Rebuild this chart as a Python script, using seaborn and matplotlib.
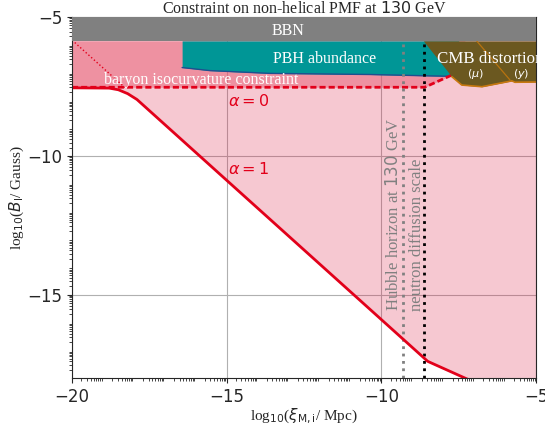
import numpy as np
import seaborn as sns
from matplotlib import pyplot as plt
from matplotlib.ticker import FixedLocator

# --- values (log10 xi [Mpc], log10 B [Gauss]) ---
bbn_floor = -5.86

alpha1_x = [-20.0, -18.8, -18.5, -18.2, -17.9, -8.5, -5.0]
alpha1_y = [-7.55, -7.56, -7.62, -7.76, -7.97, -17.4, -19.15]
alpha1_ext_x = [-20.0, -18.25]
alpha1_ext_y = [-5.83, -7.58]

alpha0_x = [-20.0, -8.6, -7.3]
alpha0_y = [-7.53, -7.53, -6.88]

pbh_x = [-16.44, -16.44, -15.54, -13.6, -10.37, -8.43, -7.5]
pbh_y = [-5.86, -6.82, -6.93, -7.03, -7.07, -7.12, -7.14]

cmb_x = [-8.64, -7.72, -7.40, -6.75, -5.78, -5.68, -5.0]
cmb_y = [-5.86, -7.15, -7.45, -7.51, -7.30, -7.35, -7.34]
cmb_split_x = [-6.92, -5.84]
cmb_split_y = [-5.86, -7.27]

hubble_scale = -9.30
neutron_scale = -8.62

sns.set_style("ticks")
plt.rcParams["font.family"] = ["Liberation Serif", "DejaVu Sans"]
plt.rcParams["mathtext.fontset"] = "dejavusans"

RED = "#e2001a"

fig = plt.figure(figsize=(5.45, 4.34), dpi=100)
ax = fig.add_axes([0.1321, 0.129, 0.8514, 0.8318])

ax.grid(True, color="#b0b0b0", lw=0.8, zorder=0)
ax.set_axisbelow(True)

# allowed region above alpha=1 line
ax.fill_between(alpha1_x, alpha1_y, -5, color="crimson", alpha=0.23, lw=0, zorder=1)
# baryon isocurvature
ax.fill_between(alpha0_x, alpha0_y, bbn_floor, color="#e8647a", alpha=0.55, lw=0, zorder=1.1)
# PBH abundance
ax.fill_between(pbh_x, pbh_y, bbn_floor, color="#009696", lw=0, zorder=1.2)
ax.plot(pbh_x[1:], pbh_y[1:], color="#1f4f8f", lw=1, zorder=1.25)
# CMB distortion
ax.fill_between(cmb_x, cmb_y, bbn_floor, color="#6b5820", lw=0, zorder=1.4)
ax.plot(cmb_x[1:], cmb_y[1:], color="#c8780f", lw=1.2, zorder=1.45)
ax.plot(cmb_split_x, cmb_split_y, color="#b8730f", lw=0.9, zorder=1.45)
# BBN
ax.axhspan(bbn_floor, -5, color="gray", lw=0, zorder=3)

sns.lineplot(x=alpha1_x, y=alpha1_y, color=RED, lw=2, ax=ax, zorder=2)
sns.lineplot(x=alpha0_x, y=alpha0_y, color=RED, lw=2, ls=(0, (2.2, 1.1)), ax=ax, zorder=1.3)
ax.plot(alpha1_ext_x, alpha1_ext_y, color=RED, lw=1, ls=":", zorder=1.3)

ax.vlines(hubble_scale, -18, bbn_floor, color="gray", lw=2, ls=":", zorder=1.5)
ax.vlines(neutron_scale, -18, bbn_floor, color="black", lw=2, ls=":", zorder=1.5)

ax.text(-13.02, -5.5, "BBN", color="white", fontsize=11.5, ha="center", va="center", zorder=4)
ax.text(-11.85, -6.52, "PBH abundance", color="white", fontsize=11.5, ha="center", va="center", zorder=4)
ax.text(-18.95, -7.27, "baryon isocurvature constraint", color="white", fontsize=11.5,
        ha="left", va="center", zorder=4)
ax.text(-8.2, -6.52, "CMB distortion", color="white", fontsize=12.2, ha="left", va="center", zorder=4)
ax.text(-6.97, -7.06, r"$(\mu)$", color="white", fontsize=8, ha="center", va="center", zorder=4)
ax.text(-5.48, -7.06, r"$(y)$", color="white", fontsize=8, ha="center", va="center", zorder=4)
ax.text(-14.95, -8.05, r"$\alpha = 0$", color=RED, fontsize=11.5, ha="left", va="center", zorder=4)
ax.text(-14.95, -10.5, r"$\alpha = 1$", color=RED, fontsize=11.5, ha="left", va="center", zorder=4)
ax.text(-9.62, -15.6, "Hubble horizon at $130$ GeV", color="gray", fontsize=12, rotation=90,
        ha="center", va="bottom", zorder=4)
ax.text(-8.86, -15.6, "neutron diffusion scale", color="gray", fontsize=12, rotation=90,
        ha="center", va="bottom", zorder=4)

ax.set_xlim(-20, -5)
ax.set_ylim(-18, -5)
ax.set_xticks([-20, -15, -10, -5])
ax.set_yticks([-15, -10, -5])
minor = np.log10(np.arange(2, 10))
ax.xaxis.set_minor_locator(FixedLocator([n + m for n in range(-20, -5) for m in minor]))
ax.yaxis.set_minor_locator(FixedLocator([n + m for n in range(-18, -5) for m in minor]))
ax.tick_params(axis="both", which="major", labelsize=12, labelfontfamily="DejaVu Sans")

ax.set_xlabel(r"log$_{10}$($\xi_{\rm M,i}$/ Mpc)", fontsize=11, labelpad=1)
ax.set_ylabel(r"log$_{10}$($B_{\rm I}$/ Gauss)", fontsize=11, labelpad=1)
ax.set_title("Constraint on non-helical PMF at $130$ GeV", fontsize=11.5, pad=2)

fig.savefig("out.png", dpi=100)
